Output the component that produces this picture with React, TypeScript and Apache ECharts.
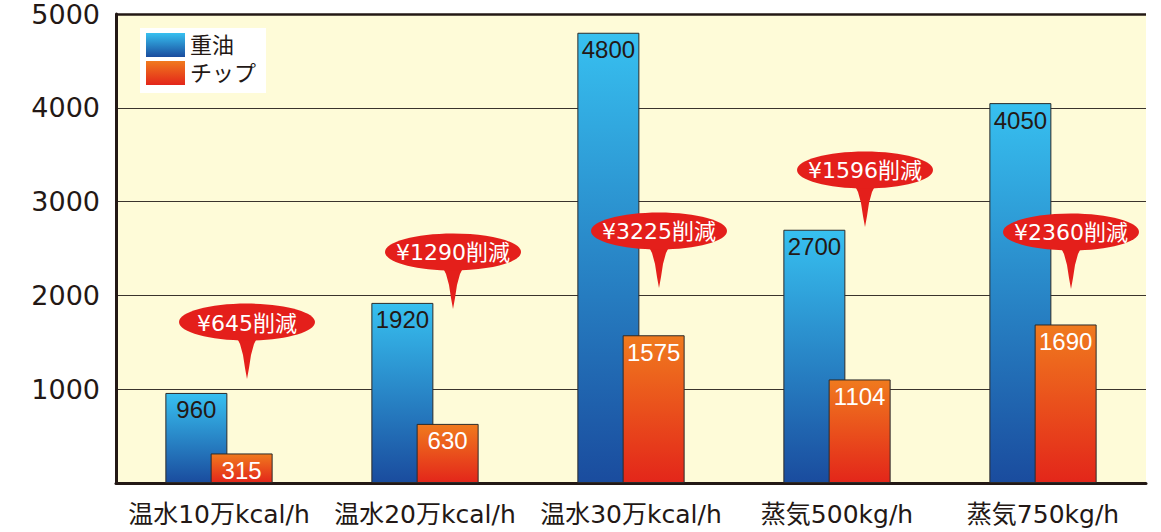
import React, { useEffect, useRef } from "react";
import * as echarts from "echarts";

const categories = ["温水10万kcal/h", "温水20万kcal/h", "温水30万kcal/h", "蒸気500kg/h", "蒸気750kg/h"];
const heavyOil = [960, 1920, 4800, 2700, 4050];
const chip = [315, 630, 1575, 1104, 1690];
// level (in axis units) of each savings callout's bubble centre
const calloutLevel = [1716, 2463, 2687, 3337, 2676];
const seriesNames = ["重油", "チップ"];

const FONT = "'Liberation Sans', Arial, 'Noto Sans CJK JP', sans-serif";
const WIDE = "'DejaVu Sans', 'Noto Sans CJK JP', sans-serif";

export default function App() {
  const ref = useRef<HTMLDivElement>(null);
  useEffect(() => {
    if (!ref.current) return;
    const chart = echarts.init(ref.current, null, { renderer: "svg" });
    const blue = new echarts.graphic.LinearGradient(0, 0, 0, 1, [
      { offset: 0, color: "#37c0f0" },
      { offset: 1, color: "#1a4c9e" },
    ]);
    const orange = new echarts.graphic.LinearGradient(0, 0, 0, 1, [
      { offset: 0, color: "#f07a1e" },
      { offset: 1, color: "#e3261a" },
    ]);
    const calloutData = categories.map((_, i) => [i, calloutLevel[i], heavyOil[i] - chip[i]]);
    chart.setOption({
      animation: false,
      textStyle: { fontFamily: FONT },
      grid: {
        left: 116,
        right: 15,
        top: 14,
        bottom: 49,
        show: true,
        backgroundColor: "#fefbd8",
        borderWidth: 0,
      },
      legend: {
        data: seriesNames,
        orient: "vertical",
        left: 140,
        top: 28,
        backgroundColor: "#ffffff",
        padding: [5, 10, 8, 6],
        itemGap: 4,
        itemWidth: 39,
        itemHeight: 24,
        icon: "rect",
        itemStyle: { borderWidth: 0 },
        textStyle: { fontSize: 22, color: "#231815", fontFamily: WIDE },
      },
      xAxis: {
        type: "category",
        data: categories,
        axisLine: { show: true, lineStyle: { color: "#231815", width: 3 } },
        axisTick: { show: false },
        axisLabel: { interval: 0, color: "#231815", fontSize: 25, margin: 19, fontFamily: WIDE },
        splitLine: { show: false },
      },
      yAxis: {
        type: "value",
        min: 0,
        max: 5000,
        interval: 1000,
        axisLine: { show: true, lineStyle: { color: "#231815", width: 3 } },
        axisTick: { show: false },
        axisLabel: {
          color: "#231815",
          fontSize: 27,
          margin: 16,
          fontFamily: WIDE,
          formatter: (v: number) => (v === 0 ? "" : String(v)),
        },
        splitLine: { show: true, lineStyle: { color: "#3a332c", width: 1 } },
      },
      series: [
        {
          name: seriesNames[0],
          type: "bar",
          data: heavyOil,
          barWidth: 62,
          barGap: "-27%",
          itemStyle: { color: blue, borderColor: "#2b2b2b", borderWidth: 1 },
          label: {
            show: true,
            position: "insideTop",
            distance: 5,
            color: "#231815",
            fontSize: 24,
            fontFamily: FONT,
          },
          z: 2,
          markLine: {
            silent: true,
            symbol: "none",
            label: { show: false },
            lineStyle: { color: "#231815", width: 2.5, type: "solid" },
            data: [{ yAxis: 5000 }],
          },
        },
        {
          name: seriesNames[1],
          type: "bar",
          data: chip,
          barWidth: 62,
          itemStyle: { color: orange, borderColor: "#2b2b2b", borderWidth: 1 },
          label: {
            show: true,
            position: "insideTop",
            distance: 5,
            color: "#ffffff",
            fontSize: 24,
            fontFamily: FONT,
          },
          z: 3,
        },
        {
          type: "custom",
          coordinateSystem: "cartesian2d",
          data: calloutData,
          z: 10,
          silent: true,
          renderItem: (params: any, api: any) => {
            const p = api.coord([api.value(0), api.value(1)]);
            const cx = p[0] + 28;
            const cy = p[1];
            const red = "#e41f1b";
            return {
              type: "group",
              children: [
                {
                  type: "polygon",
                  shape: {
                    points: [
                      [cx - 12, cy + 12],
                      [cx - 7, cy + 22],
                      [cx - 4, cy + 33],
                      [cx - 2, cy + 46],
                      [cx, cy + 57],
                      [cx + 2, cy + 46],
                      [cx + 4, cy + 33],
                      [cx + 7, cy + 22],
                      [cx + 12, cy + 12],
                    ],
                  },
                  style: { fill: red },
                },
                {
                  type: "ellipse",
                  shape: { cx, cy, rx: 68, ry: 18.5 },
                  style: { fill: red },
                },
                {
                  type: "text",
                  style: {
                    text: "¥" + api.value(2) + "削減",
                    x: cx,
                    y: cy + 1,
                    align: "center",
                    verticalAlign: "middle",
                    fill: "#ffffff",
                    fontSize: 22,
                    fontFamily: WIDE,
                  },
                },
              ],
            };
          },
        },
      ],
    });
    return () => chart.dispose();
  }, []);
  return (
    <div
      ref={ref}
      style={{ position: "fixed", left: 0, top: 0, width: 1161, height: 532, background: "#ffffff" }}
    />
  );
}
